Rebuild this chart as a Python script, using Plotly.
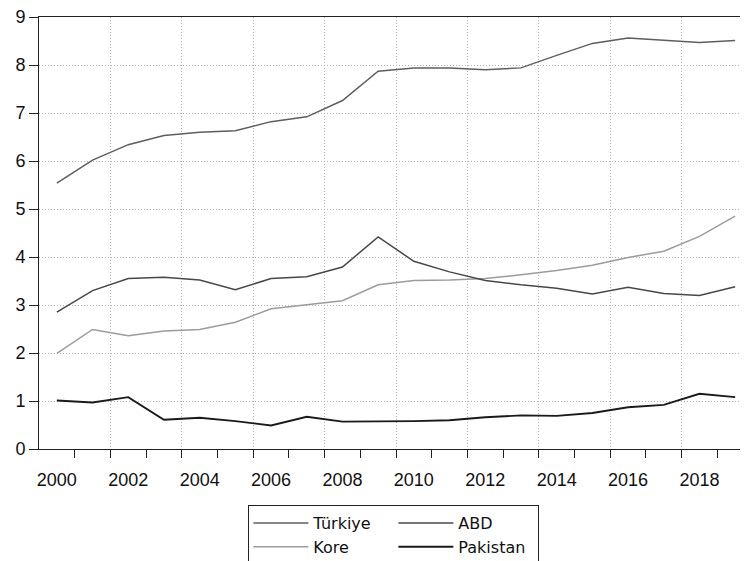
import plotly.graph_objects as go

years = list(range(2000, 2020))
turkiye = [5.54, 6.02, 6.34, 6.53, 6.60, 6.63, 6.82, 6.92, 7.26, 7.87,
           7.94, 7.94, 7.90, 7.94, 8.20, 8.45, 8.56, 8.51, 8.47, 8.51]
abd = [2.85, 3.30, 3.55, 3.58, 3.52, 3.32, 3.55, 3.59, 3.79, 4.42,
       3.91, 3.69, 3.51, 3.42, 3.35, 3.23, 3.37, 3.24, 3.20, 3.38]
kore = [1.99, 2.49, 2.36, 2.46, 2.49, 2.64, 2.92, 3.01, 3.09, 3.42,
        3.51, 3.52, 3.55, 3.63, 3.72, 3.83, 3.99, 4.12, 4.43, 4.85]
pakistan = [1.01, 0.97, 1.08, 0.61, 0.65, 0.58, 0.49, 0.67, 0.57, 0.57,
            0.58, 0.60, 0.66, 0.70, 0.69, 0.75, 0.87, 0.92, 1.15, 1.08]

label_years = list(range(2000, 2019, 2))
label_text = [str(y) for y in label_years]
y_ticks = list(range(0, 10))

FONT = "Liberation Sans, Arial, sans-serif"
LEG_FONT = "DejaVu Sans, Liberation Sans, sans-serif"

fig = go.Figure()
series = [
    ("Türkiye", turkiye, "#5e5e5e", 1.5, "g1", "x"),
    ("Kore", kore, "#9c9c9c", 1.5, "g1", "x"),
    ("ABD", abd, "#484848", 1.5, "g2", "x"),
    ("Pakistan", pakistan, "#1a1a1a", 1.9, "g2", "x2"),
]
for name, vals, col, w, grp, xa in series:
    fig.add_trace(go.Scatter(x=years, y=vals, mode="lines", name=name,
                             line=dict(color=col, width=w),
                             legendgroup=grp, xaxis=xa, yaxis="y"))

x_range = [years[0] - 0.5, years[-1] + 0.5]
bounds = [y + 0.5 for y in years[:-1]]
grid_bounds = [b for b in bounds if int(b) % 2 == 1]

fig.update_layout(
    width=748, height=561,
    margin=dict(l=31, r=3, t=9, b=120, autoexpand=False),
    paper_bgcolor="white", plot_bgcolor="white",
    font=dict(family=FONT, size=18, color="#111"),
    showlegend=True,
    legend=dict(orientation="h", traceorder="grouped",
                x=0.497, xanchor="center", y=-0.1296, yanchor="top",
                bordercolor="#222", borderwidth=1, bgcolor="white",
                font=dict(family=LEG_FONT, size=16, color="#111"),
                itemwidth=55, entrywidth=75, tracegroupgap=0),
    xaxis=dict(range=x_range, tickmode="array", tickvals=grid_bounds,
               showticklabels=False, ticks="outside", ticklen=8,
               tickcolor="#222", showgrid=True, gridcolor="#b5b5b5",
               griddash="1px,2px", gridwidth=1, zeroline=False,
               automargin=False,
               showline=True, linecolor="#222", linewidth=1, mirror=True,
               minor=dict(tickmode="array", tickvals=bounds, ticks="outside",
                          ticklen=8, tickcolor="#222", showgrid=False)),
    xaxis2=dict(range=x_range, overlaying="x", anchor="y", side="bottom",
                tickmode="array", tickvals=label_years, ticktext=label_text,
                ticks="outside", ticklen=14, tickcolor="rgba(0,0,0,0)",
                showgrid=False, showline=False, zeroline=False,
                automargin=False,
                tickfont=dict(family=FONT, size=18, color="#111")),
    yaxis=dict(range=[0, 9], tickmode="array", tickvals=y_ticks,
               ticks="outside", ticklen=9, tickcolor="#222",
               ticklabeloverflow="allow", automargin=False,
               showgrid=True, gridcolor="#b5b5b5", griddash="1px,2px",
               gridwidth=1, zeroline=False, showline=True, linecolor="#222",
               linewidth=1, mirror=True,
               tickfont=dict(family=FONT, size=18, color="#111")),
)

fig.write_html("out.html")
